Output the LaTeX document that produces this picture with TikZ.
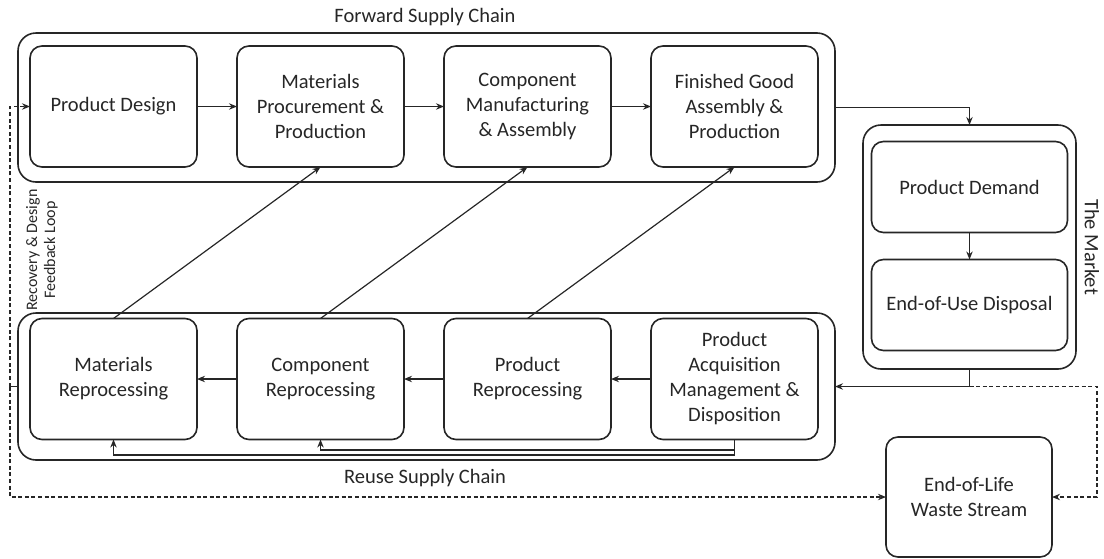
\documentclass[tikz,border=0pt]{standalone}
\usepackage{fontspec}
\setmainfont{Carlito}
\usetikzlibrary{arrows.meta}

\begin{document}
\begin{tikzpicture}[x=0.5pt,y=-0.5pt,line width=0.6pt,color=black!85,>={Stealth[length=4pt,width=3.2pt]},
  stage/.style={draw,rounded corners=6pt,line width=0.8pt,minimum width=83.5pt,minimum height=60.5pt,align=center,inner sep=1pt,outer sep=0pt,font=\fontsize{10.25}{12.5}\selectfont},
  chain/.style={draw,rounded corners=9pt,line width=0.8pt,inner sep=0pt,outer sep=0pt},
  feed/.style={->,dashed,dash pattern=on 2pt off 1.3pt},
  lbl/.style={font=\fontsize{10.25}{12.5}\selectfont,inner sep=0pt}]
\useasboundingbox (0,0) rectangle (1104,558);

% containers
\node[chain,minimum width=408.5pt,minimum height=74.5pt] (fwd) at (426.5,107.5) {};
\node[chain,minimum width=408.5pt,minimum height=73.5pt] (reuse) at (426.5,386.5) {};
\node[chain,minimum width=106.5pt,minimum height=122pt] (market) at (969.5,247) {};

% forward supply chain
\node[stage] (design) at (113.5,106.5) {Product Design};
\node[stage] (procure) at (320.5,106.5) {Materials\\Procurement \&\\Production};
\node[stage] (compmfg) at (527.5,106.5) {Component\\Manufacturing\\\& Assembly};
\node[stage] (finished) at (734.5,106.5) {Finished Good\\Assembly \&\\Production};

% reuse supply chain
\node[stage] (matrep) at (113.5,379) {Materials\\Reprocessing};
\node[stage] (comprep) at (320.5,379) {Component\\Reprocessing};
\node[stage] (prodrep) at (527.5,379) {Product\\Reprocessing};
\node[stage] (acquire) at (734.5,379) {Product\\Acquisition\\Management \&\\Disposition};

% market and waste
\node[stage,minimum width=98pt,minimum height=45.5pt] (demand) at (969.5,187) {Product Demand};
\node[stage,minimum width=98pt,minimum height=45.5pt] (disposal) at (969.5,305) {End-of-Use Disposal};
\node[stage,minimum width=83pt,minimum height=60pt] (waste) at (969,497) {End-of-Life\\Waste Stream};

% labels
\node[lbl] (fwdlbl) at (425,17) {Forward Supply Chain};
\node[lbl] (reuselbl) at (425,478) {Reuse Supply Chain};
\node[lbl,rotate=-90] (mktlbl) at (1092,247) {The Market};
\node[lbl,rotate=90,align=center,font=\fontsize{8}{9}\selectfont] (looplbl) at (42,250) {Recovery \& Design\\Feedback Loop};

% forward flow
\draw[->] (design) -- (procure);
\draw[->] (procure) -- (compmfg);
\draw[->] (compmfg) -- (finished);
\draw[->] (fwd.east) -| (market.north);
\draw[->] (demand) -- (disposal);

% return flow
\coordinate (split) at (market.south |- reuse.east);
\coordinate (rturn) at (1097,386.5);
\coordinate (lturn) at (10,386.5);
\draw[->] (market.south) -- (split) -- (reuse.east);
\draw[feed] (split) -- (rturn) |- (waste.east);
\draw[->] (acquire) -- (prodrep);
\draw[->] (prodrep) -- (comprep);
\draw[->] (comprep) -- (matrep);
\draw[->] (acquire.south) -- (acquire.south |- 0,455) -| (matrep.south);
\draw[->] (acquire.south |- 0,450) -| (comprep.south);

% recovery to forward chain
\draw[->] (matrep.north) -- (procure.south);
\draw[->] (comprep.north) -- (compmfg.south);
\draw[->] (prodrep.north) -- (finished.south);

% design feedback loop
\draw (reuse.west) -- (lturn);
\draw[feed] (lturn) |- (design.west);
\draw[feed] (lturn) |- (waste.west);
\end{tikzpicture}
\end{document}
